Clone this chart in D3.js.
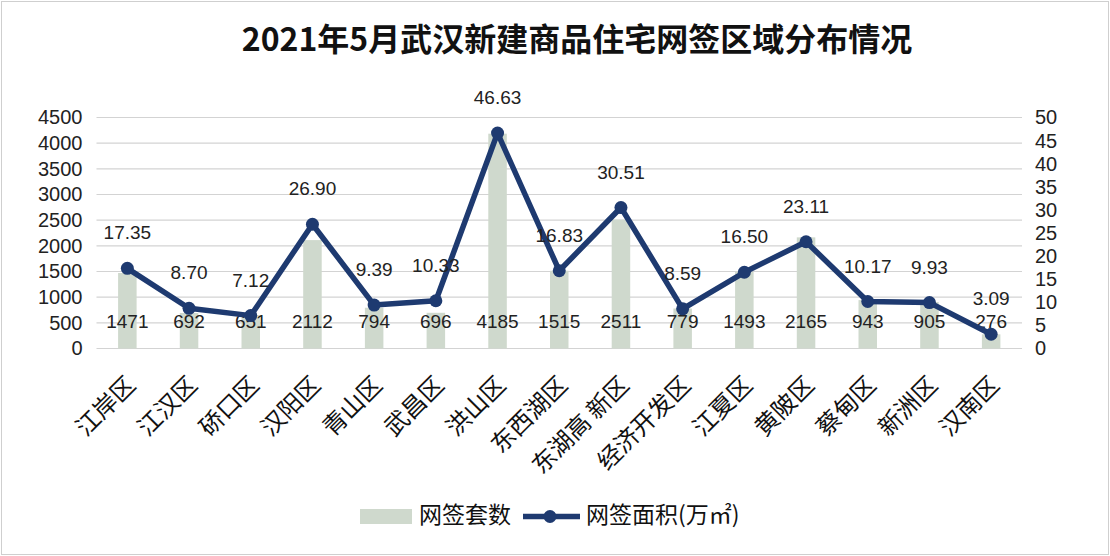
<!DOCTYPE html>
<html><head><meta charset="utf-8">
<script src="https://cdn.jsdelivr.net/npm/d3@7"></script>
<style>
html,body{margin:0;padding:0;background:#fff;}
svg{display:block;}
</style></head>
<body>
<svg id="chart" width="1110" height="556"></svg>
<script>
const title = "2021年5月武汉新建商品住宅网签区域分布情况";
const categories = ["江岸区","江汉区","硚口区","汉阳区","青山区","武昌区","洪山区","东西湖区","东湖高 新区","经济开发区","江夏区","黄陂区","蔡甸区","新洲区","汉南区"];
const counts = [1471,692,651,2112,794,696,4185,1515,2511,779,1493,2165,943,905,276];
const areas = [17.35,8.70,7.12,26.90,9.39,10.33,46.63,16.83,30.51,8.59,16.50,23.11,10.17,9.93,3.09];
const leftTicks = [0,500,1000,1500,2000,2500,3000,3500,4000,4500];
const rightTicks = [0,5,10,15,20,25,30,35,40,45,50];
const seriesNames = ["网签套数","网签面积(万㎡)"];

const W = 1110, H = 556;
const m = {left:96.5, right:1022, top:117.5, bottom:348.5};
const numFont = "'Liberation Sans', Arial, sans-serif";
const cjkFont = "'Noto Sans CJK SC', 'Noto Sans', sans-serif";
const barColor = "#cfd9cd", lineColor = "#1e3a70", gridColor = "#d3d3d3", textColor = "#222";

const svg = d3.select("#chart");
svg.append("rect").attr("x",1.5).attr("y",1.5).attr("width",W-3).attr("height",H-3)
  .attr("fill","#fff").attr("stroke","#cfcfcf");

const x = d3.scaleBand().domain(categories).range([m.left,m.right]).paddingInner(0.7).paddingOuter(0.35);
const yL = d3.scaleLinear().domain([0,4500]).range([m.bottom,m.top]);
const yR = d3.scaleLinear().domain([0,50]).range([m.bottom,m.top]);

// title
svg.append("text").attr("x",577).attr("y",42).attr("text-anchor","middle").attr("dominant-baseline","middle")
  .attr("font-family",cjkFont).attr("font-weight","bold").attr("font-size",32).attr("fill","#111").text(title);

// gridlines
svg.append("g").selectAll("line").data(leftTicks).join("line")
  .attr("x1",m.left).attr("x2",m.right).attr("y1",d=>yL(d)).attr("y2",d=>yL(d))
  .attr("stroke",gridColor).attr("stroke-width",1.2);

// left axis
const gl = svg.append("g").attr("transform",`translate(${m.left},0)`)
  .call(d3.axisLeft(yL).tickValues(leftTicks).tickFormat(d3.format("d")).tickSize(0).tickPadding(14));
gl.select(".domain").remove();
gl.selectAll("text").attr("font-family",numFont).attr("font-size",20).attr("fill",textColor);

// right axis
const gr = svg.append("g").attr("transform",`translate(${m.right},0)`)
  .call(d3.axisRight(yR).tickValues(rightTicks).tickFormat(d3.format("d")).tickSize(0).tickPadding(13));
gr.select(".domain").remove();
gr.selectAll("text").attr("font-family",numFont).attr("font-size",20).attr("fill",textColor);

// bars
svg.append("g").selectAll("rect").data(counts).join("rect")
  .attr("x",(d,i)=>x(categories[i])).attr("width",x.bandwidth())
  .attr("y",d=>yL(d)).attr("height",d=>yL(0)-yL(d)).attr("fill",barColor);

// bar labels
svg.append("g").selectAll("text").data(counts).join("text")
  .attr("x",(d,i)=>x(categories[i])+x.bandwidth()/2).attr("y",yL(0)-26)
  .attr("text-anchor","middle").attr("dominant-baseline","middle")
  .attr("font-family",numFont).attr("font-size",19).attr("fill",textColor).text(d=>d);

// line
const cx = i => x(categories[i])+x.bandwidth()/2;
const line = d3.line().x((d,i)=>cx(i)).y(d=>yR(d));
svg.append("path").datum(areas).attr("d",line).attr("fill","none")
  .attr("stroke",lineColor).attr("stroke-width",5.5).attr("stroke-linejoin","round");
svg.append("g").selectAll("circle").data(areas).join("circle")
  .attr("cx",(d,i)=>cx(i)).attr("cy",d=>yR(d)).attr("r",6.5).attr("fill",lineColor);

// line labels
svg.append("g").selectAll("text").data(areas).join("text")
  .attr("x",(d,i)=>cx(i)).attr("y",d=>yR(d)-34)
  .attr("text-anchor","middle").attr("dominant-baseline","middle")
  .attr("font-family",numFont).attr("font-size",19).attr("fill",textColor).text(d=>d.toFixed(2));

// x labels
svg.append("g").selectAll("text").data(categories).join("text")
  .attr("transform",(d,i)=>`translate(${cx(i)+5},${382}) rotate(-45)`)
  .attr("text-anchor","end").attr("dominant-baseline","middle")
  .attr("font-family",cjkFont).attr("font-size",24).attr("fill","#111").text(d=>d);

// legend
const lg = svg.append("g");
lg.append("rect").attr("x",360).attr("y",509).attr("width",52).attr("height",15).attr("fill",barColor);
lg.append("text").attr("x",419).attr("y",516.5).attr("dominant-baseline","middle")
  .attr("font-family",cjkFont).attr("font-size",23).attr("fill","#111").text(seriesNames[0]);
lg.append("line").attr("x1",523).attr("x2",580).attr("y1",516.5).attr("y2",516.5)
  .attr("stroke",lineColor).attr("stroke-width",5.5);
lg.append("circle").attr("cx",550).attr("cy",516.5).attr("r",6.5).attr("fill",lineColor);
lg.append("text").attr("x",586).attr("y",516.5).attr("dominant-baseline","middle")
  .attr("font-family",cjkFont).attr("font-size",23).attr("fill","#111").text(seriesNames[1]);
</script>
</body></html>
